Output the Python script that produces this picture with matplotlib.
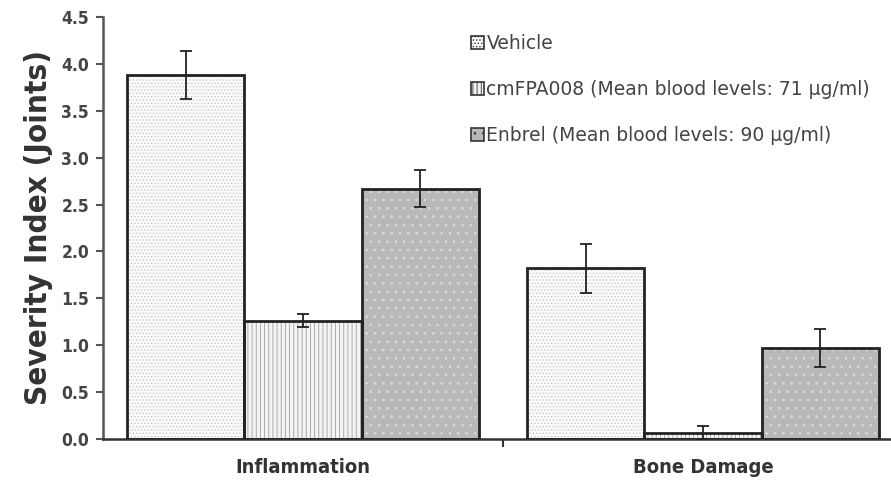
import matplotlib.pyplot as plt
import numpy as np

categories = ['Inflammation', 'Bone Damage']
series = ['Vehicle',
          'cmFPA008 (Mean blood levels: 71 µg/ml)',
          'Enbrel (Mean blood levels: 90 µg/ml)']
values = [[3.88, 1.82],
          [1.26, 0.065],
          [2.67, 0.97]]
errors = [[0.26, 0.26],
          [0.07, 0.07],
          [0.20, 0.20]]

fills = ['#fbfbfb', '#f4f4f4', '#b8b8b8']
hatch_cols = ['#c8c8c8', '#a0a0a0', '#dcdcdc']
hatches = ['.....', '||||', '..']

plt.rcParams['font.family'] = ['DejaVu Sans']
plt.rcParams['hatch.linewidth'] = 0.6

fig = plt.figure(figsize=(8.91, 4.84), dpi=100)
ax = fig.add_axes([0.1156, 0.093, 0.8844, 0.872])

x = np.arange(len(categories))
w = 0.293
for i in range(len(series)):
    pos = x + (i - 1) * w
    ax.bar(pos, values[i], width=w, color=fills[i], edgecolor=hatch_cols[i],
           hatch=hatches[i], linewidth=0, label=series[i], zorder=2)
    ax.bar(pos, values[i], width=w, fill=False, edgecolor='#222222',
           linewidth=2, zorder=3)
    ax.errorbar(pos, values[i], yerr=errors[i], fmt='none', ecolor='#222222',
                elinewidth=1.3, capsize=4, capthick=1.3, zorder=4)

ax.set_xlim(-0.5, 1.47)
ax.set_ylim(0, 4.5)
ax.set_yticks(np.arange(0, 4.51, 0.5))
ax.set_yticklabels(['%.1f' % v for v in np.arange(0, 4.51, 0.5)],
                   fontsize=12.5, fontweight='bold', color='#444444',
                   fontstretch='condensed')
ax.set_xticks(x)
ax.set_xticklabels(categories, fontsize=14.5, fontweight='bold', color='#333333',
                   fontstretch='condensed')
ax.tick_params(axis='x', length=0, pad=14)
ax.set_xticks([0.5], minor=True)
ax.tick_params(axis='x', which='minor', length=6, width=1.5, color='#333333')
ax.tick_params(axis='y', length=5, width=1.5, color='#555555', direction='out',
               pad=5)

for s in ['top', 'right']:
    ax.spines[s].set_visible(False)
ax.spines['left'].set_linewidth(1.8)
ax.spines['left'].set_color('#555555')
ax.spines['bottom'].set_linewidth(1.8)
ax.spines['bottom'].set_color('#333333')

ax.set_ylabel('Severity Index (Joints)', fontsize=22.5, fontweight='bold',
              color='#333333', fontstretch='condensed', labelpad=6)

leg = ax.legend(loc='upper left', bbox_to_anchor=(0.445, 1.0), frameon=False,
                fontsize=13.5, labelspacing=1.45, handlelength=0.7,
                handleheight=0.7, handletextpad=0.15, labelcolor='#444444')
for h in leg.legend_handles:
    h.set_edgecolor('#333333')
    h.set_linewidth(1.2)

fig.savefig('out.png', dpi=100)
